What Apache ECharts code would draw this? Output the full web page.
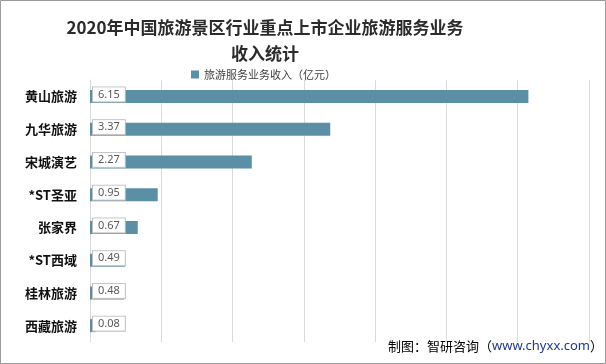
<!DOCTYPE html>
<html><head><meta charset="utf-8">
<script src="https://cdn.jsdelivr.net/npm/echarts@6/dist/echarts.min.js"></script>
<style>html,body{margin:0;padding:0;background:#fff}#c{width:606px;height:364px}</style>
</head><body><div id="c"></div>
<script>
const categories = ['黄山旅游','九华旅游','宋城演艺','*ST圣亚','张家界','*ST西域','桂林旅游','西藏旅游'];
const values = [6.15, 3.37, 2.27, 0.95, 0.67, 0.49, 0.48, 0.08];
const seriesName = '旅游服务业务收入（亿元）';
const titleText = '2020年中国旅游景区行业重点上市企业旅游服务业务\n收入统计';

const chart = echarts.init(document.getElementById('c'));
chart.setOption({
  animation: false,
  backgroundColor: '#fff',
  title: {
    text: titleText,
    left: 260, top: 10, textAlign: 'center',
    textStyle: {fontFamily: 'Noto Sans CJK SC', fontSize: 17, fontWeight: 'bold', color: '#2b2b2b', lineHeight: 26}
  },
  legend: {
    data: [seriesName], left: 186, top: 64, icon: 'rect', itemWidth: 8, itemHeight: 8, itemGap: 5,
    textStyle: {fontFamily: 'Noto Sans CJK SC', fontSize: 11, color: '#404040'}
  },
  grid: {left: 90, right: 17, top: 80, bottom: 22, containLabel: false},
  xAxis: {
    type: 'value', min: 0, max: 7, interval: 1,
    axisLabel: {show: false}, axisLine: {show: false}, axisTick: {show: false},
    splitLine: {lineStyle: {color: '#d9d9d9'}}
  },
  yAxis: {
    type: 'category', data: categories, inverse: true,
    axisLine: {lineStyle: {color: '#d9d9d9'}}, axisTick: {show: false},
    axisLabel: {margin: 13, fontFamily: 'Noto Sans CJK SC', fontSize: 13, fontWeight: 'bold', color: '#111'}
  },
  series: [{
    name: seriesName, type: 'bar', data: values, barWidth: 13,
    itemStyle: {color: '#5b8fa6'},
    label: {
      show: true, position: 'insideLeft', distance: 3, offset: [0, -2],
      backgroundColor: '#fff', borderColor: '#bfbfbf', borderWidth: 1, padding: [1, 5],
      fontFamily: 'Noto Sans', fontSize: 11, lineHeight: 12, color: '#595959',
      formatter: p => p.value.toFixed(2)
    }
  }],
  graphic: [
    {type: 'rect', shape: {x: 0.5, y: 0.5, width: 605, height: 363}, style: {fill: null, stroke: '#9a9a9a', lineWidth: 1}, silent: true},
    {type: 'text', right: 3, top: 340, style: {
      text: '{a|制图：智研咨询（}{b|www.chyxx.com}{a|）}',
      rich: {
        a: {fontFamily: 'Noto Sans CJK SC', fontSize: 13, fill: '#000'},
        b: {fontFamily: 'Noto Sans', fontSize: 13, fill: '#1f3a8a'}
      }
    }}
  ]
});
</script></body></html>
